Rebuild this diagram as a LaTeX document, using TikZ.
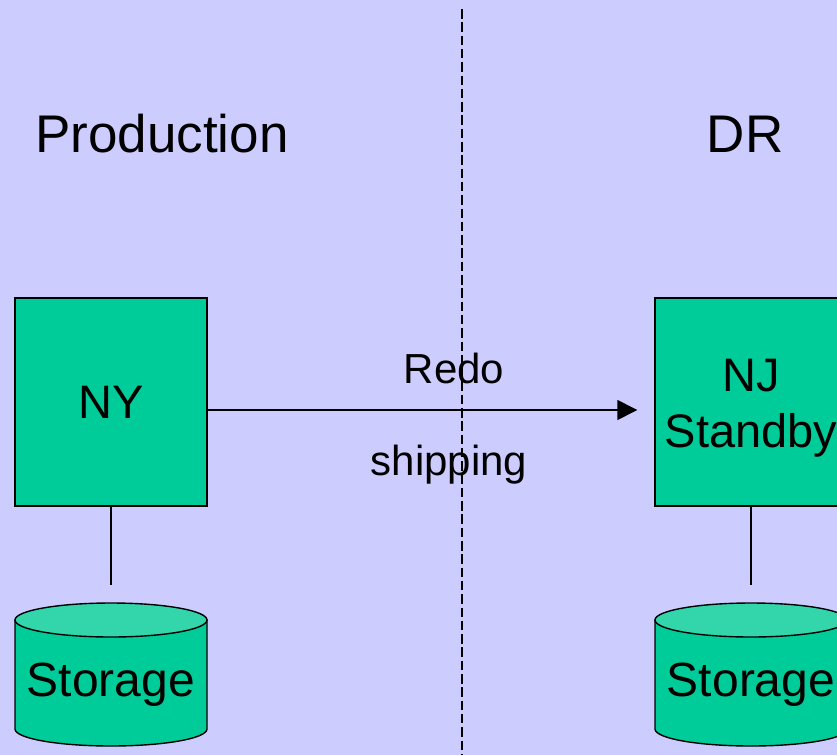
\documentclass[tikz,border=0pt]{standalone}
\usepackage{fontspec}
\setmainfont{Liberation Sans}
\usetikzlibrary{arrows.meta}
\definecolor{bgpurple}{HTML}{CCCCFF}
\definecolor{sitegreen}{HTML}{00CC99}
\definecolor{lidgreen}{HTML}{33D6AA}
\tikzset{
  site/.style={draw=black, line width=1.4pt, fill=sitegreen, minimum width=192pt,
    minimum height=208pt, inner sep=0pt, align=center,
    font=\fontsize{47}{56}\selectfont},
  heading/.style={font=\fontsize{53}{60}\selectfont, inner sep=0pt},
  label/.style={font=\fontsize{42}{48}\selectfont, inner sep=0pt},
  disklabel/.style={font=\fontsize{48}{54}\selectfont, inner sep=0pt},
  wire/.style={line width=1.4pt},
  flow/.style={line width=1.4pt, -{Triangle[length=20pt,width=20pt]}},
  divider/.style={line width=1.8pt, dash pattern=on 9.5pt off 3.8pt},
  disk/.style={draw=black, line width=1.4pt}
}
% cylinder: #1 = centre x, #2 = top ellipse centre y, #3 = bottom ellipse centre y
\newcommand{\diskdrum}[3]{%
  \path[disk, fill=sitegreen] (#1-96,#2) -- (#1-96,#3)
    arc[start angle=180, end angle=360, x radius=96, y radius=-17]
    -- (#1+96,#2) -- cycle;
  \path[disk, fill=lidgreen] (#1,#2) ellipse[x radius=96, y radius=17];
}
\begin{document}
\begin{tikzpicture}[x=1pt,y=-1pt]
  \useasboundingbox (0,0) rectangle (837,755);
  \fill[bgpurple] (0,0) rectangle (837,755);

  % boundary between the two sites
  \draw[divider] (462,9) -- (462,755);

  % site headings
  \node[heading] (prodhead) at (162,134) {Production};
  \node[heading] (drhead) at (745,134) {DR};

  % database servers
  \node[site] (ny) at (111,402) {NY};
  \node[site] (nj) at (751,402) {};
  \node[site, draw=none, fill=none] (njtext) at (751,408) {NJ\\Standby};

  % storage drums
  \diskdrum{111}{620}{729}
  \diskdrum{751}{620}{729}
  \node[disklabel] (nystore) at (111,685) {Storage};
  \node[disklabel] (njstore) at (751,685) {Storage};

  % server-to-storage links
  \coordinate (nylink) at (111,585);
  \coordinate (njlink) at (751,585);
  \draw[wire] (ny.south) -- (nylink);
  \draw[wire] (nj.south) -- (njlink);

  % redo shipping
  \draw[flow, shorten >=17pt] ([yshift=-8pt]ny.east) -- ([yshift=-8pt]nj.west);
  \node[label] (redo) at (454,368) {Redo};
  \node[label] (ship) at (449,465) {shipping};
\end{tikzpicture}
\end{document}
